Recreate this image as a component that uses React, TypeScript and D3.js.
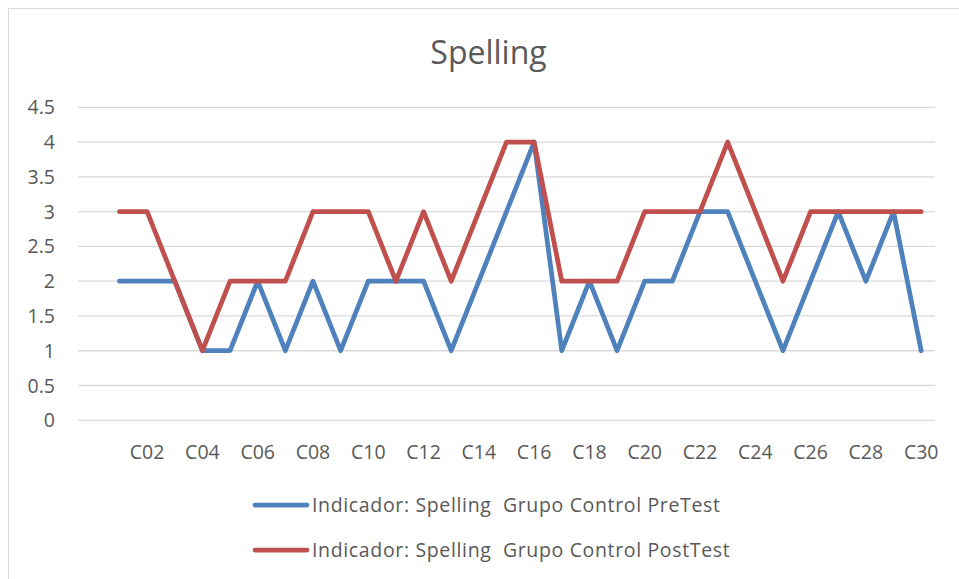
import React from "react";
import * as d3 from "d3";

const categories = ["", "C01", "C02", "C03", "C04", "C05", "C06", "C07", "C08", "C09", "C10",
  "C11", "C12", "C13", "C14", "C15", "C16", "C17", "C18", "C19", "C20",
  "C21", "C22", "C23", "C24", "C25", "C26", "C27", "C28", "C29", "C30"];

const seriesCategories = categories.slice(1);

const preTest = [2, 2, 2, 1, 1, 2, 1, 2, 1, 2, 2, 2, 1, 2, 3, 4, 1, 2, 1, 2, 2, 3, 3, 2, 1, 2, 3, 2, 3, 1];
const postTest = [3, 3, 2, 1, 2, 2, 2, 3, 3, 3, 2, 3, 2, 3, 4, 4, 2, 2, 2, 3, 3, 3, 4, 3, 2, 3, 3, 3, 3, 3];

const yTicks = [0, 0.5, 1, 1.5, 2, 2.5, 3, 3.5, 4, 4.5];

const seriesNames = [
  "Indicador: Spelling\u00a0 Grupo Control PreTest",
  "Indicador: Spelling\u00a0 Grupo Control PostTest",
];
const title = "Spelling";

const FONT = "'Open Sans', sans-serif";
const TEXT = "#595959";
const GRID = "#d9d9d9";
const COLORS = ["#4f81bd", "#c0504d"];

export default function App() {
  const W = 959, H = 579;
  const x = d3.scaleBand<string>().domain(categories).range([78, 935]).padding(0);
  const y = d3.scaleLinear().domain([0, 4.5]).range([420.3, 107.3]);
  const cx = (c: string) => (x(c) as number) + x.bandwidth() / 2;

  const line = d3.line<[string, number]>()
    .x(d => cx(d[0]))
    .y(d => y(d[1]));

  const series = [preTest, postTest].map(vals => seriesCategories.map((c, i) => [c, vals[i]] as [string, number]));

  return (
    <svg width={W} height={H} style={{ position: "absolute", left: 0, top: 0, background: "#fff" }}>
      <rect x={8.5} y={8.5} width={980} height={600} fill="#fff" stroke={GRID} strokeWidth={1} />
      <text x={488.5} y={64} textAnchor="middle" fontFamily={FONT} fontSize={32} fill={TEXT}>{title}</text>
      {yTicks.map(t => (
        <g key={t}>
          <line x1={78} x2={935} y1={y(t)} y2={y(t)} stroke={GRID} strokeWidth={1.3} />
          <text x={55} y={y(t)} dy="0.36em" textAnchor="end" fontFamily={FONT} fontSize={19.5} fill={TEXT}>{String(t)}</text>
        </g>
      ))}
      {categories.map((c, i) => i % 2 === 0 && c ? (
        <text key={c} x={cx(c)} y={459} textAnchor="middle" fontFamily={FONT} fontSize={19.5} fill={TEXT}>{c}</text>
      ) : null)}
      {series.map((s, i) => (
        <path key={i} d={line(s) || ""} fill="none" stroke={COLORS[i]} strokeWidth={4.75} strokeLinejoin="round" strokeLinecap="round" />
      ))}
      {seriesNames.map((n, i) => {
        const ly = 505 + i * 45;
        return (
          <g key={n}>
            <line x1={255} x2={307} y1={ly} y2={ly} stroke={COLORS[i]} strokeWidth={4.75} strokeLinecap="round" />
            <text x={312} y={ly} dy="0.36em" fontFamily={FONT} fontSize={19.5} letterSpacing={0.65} fill={TEXT}>{n}</text>
          </g>
        );
      })}
    </svg>
  );
}
